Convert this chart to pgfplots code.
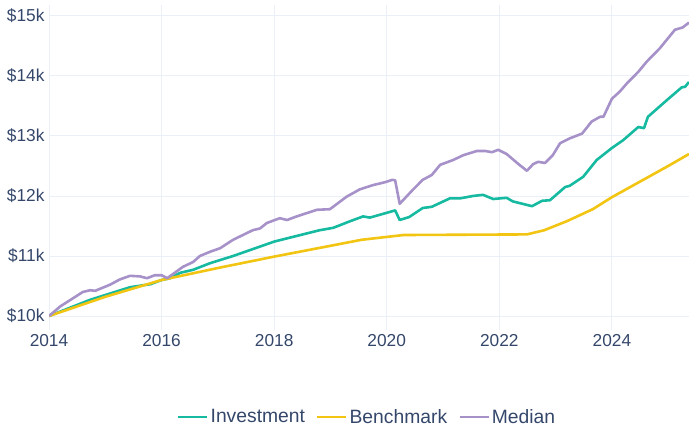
\documentclass[border=0pt]{standalone}
\usepackage{fontspec}
\setmainfont{Liberation Sans}
\usepackage{pgfplots}
\pgfplotsset{compat=1.18}
\definecolor{inv}{RGB}{22,186,160}
\definecolor{bench}{RGB}{242,197,18}
\definecolor{med}{RGB}{166,146,201}
\definecolor{gridc}{HTML}{EBF0F8}
\definecolor{txt}{HTML}{34476A}
\begin{document}
\begin{tikzpicture}
\useasboundingbox (-49bp,-99bp) rectangle (640bp,330bp);
\begin{axis}[
  scale only axis, width=640bp, height=325bp,
  xmin=2014, xmax=2025.37, ymin=9.767, ymax=15.183,
  xtick={2014,2016,2018,2020,2022,2024},
  xticklabels={2014,2016,2018,2020,2022,2024},
  ytick={10,11,12,13,14,15},
  yticklabels={\$10k,\$11k,\$12k,\$13k,\$14k,\$15k},
  /pgf/number format/assume math mode=true,
  ticklabel style={font=\fontsize{17.3bp}{19bp}\selectfont, text=txt},
  yticklabel style={xshift=-1bp},
  xticklabel style={yshift=-1bp},
  axis line style={draw=none},
  major tick length=0pt,
  grid=major,
  grid style={gridc, line width=1bp},
  legend columns=3,
  legend style={at={(0.497,-0.268)}, anchor=center, draw=none, fill=none,
    font=\fontsize{19.3bp}{21bp}\selectfont, text=txt,
    /tikz/every even column/.append style={column sep=9bp}},
  legend image code/.code={\draw[#1, line width=2.6bp] (0bp,0bp) -- (29bp,0bp);},
  every axis plot/.append style={line width=2.6bp, line join=round},
]
\addplot[inv, mark=none] coordinates {
(2014.0,10.0) (2014.73,10.27) (2015.44,10.48) (2015.8,10.53) (2016.0,10.6)
(2016.15,10.63) (2016.33,10.72) (2016.56,10.77) (2016.86,10.88) (2017.27,11.0)
(2018.0,11.24) (2018.81,11.43) (2019.05,11.47) (2019.35,11.58) (2019.58,11.66)
(2019.7,11.64) (2020.15,11.76) (2020.23,11.6) (2020.4,11.65) (2020.64,11.8)
(2020.8,11.82) (2021.12,11.96) (2021.3,11.96) (2021.53,12.0) (2021.71,12.02)
(2021.89,11.95) (2022.13,11.97) (2022.24,11.91) (2022.58,11.83) (2022.76,11.92)
(2022.9,11.93) (2023.17,12.15) (2023.25,12.17) (2023.49,12.32) (2023.73,12.6)
(2024.0,12.8) (2024.2,12.93) (2024.47,13.15) (2024.57,13.13) (2024.64,13.32)
(2024.98,13.6) (2025.24,13.81) (2025.3,13.82) (2025.37,13.9)
};
\addlegendentry{Investment}
\addplot[bench, mark=none] coordinates {
(2014,10.0) (2015,10.32) (2016,10.6) (2017,10.8) (2018,10.99) (2019,11.17)
(2019.55,11.27) (2020.3,11.35) (2022.49,11.36) (2022.8,11.43) (2023.2,11.58)
(2023.66,11.78) (2024.0,11.98) (2024.5,12.24) (2025.0,12.5) (2025.37,12.7)
};
\addlegendentry{Benchmark}
\addplot[med, mark=none] coordinates {
(2014.0,10.0) (2014.2,10.16) (2014.6,10.4) (2014.73,10.43) (2014.82,10.42)
(2015.08,10.52) (2015.26,10.61) (2015.44,10.67) (2015.62,10.66) (2015.74,10.63)
(2015.88,10.68) (2016.0,10.68) (2016.1,10.63) (2016.38,10.82) (2016.56,10.9)
(2016.68,11.0) (2016.86,11.07) (2017.04,11.13) (2017.27,11.27) (2017.62,11.43)
(2017.75,11.46) (2017.87,11.55) (2018.1,11.63) (2018.23,11.6) (2018.4,11.66)
(2018.76,11.77) (2018.99,11.78) (2019.29,11.99) (2019.52,12.11) (2019.75,12.18)
(2019.97,12.23) (2020.1,12.27) (2020.15,12.26) (2020.23,11.87) (2020.46,12.1)
(2020.64,12.27) (2020.8,12.35) (2020.95,12.52) (2021.18,12.6) (2021.36,12.68)
(2021.6,12.75) (2021.75,12.75) (2021.87,12.73) (2021.98,12.77) (2022.13,12.7)
(2022.33,12.54) (2022.49,12.42) (2022.6,12.53) (2022.69,12.57) (2022.81,12.55)
(2022.95,12.68) (2023.08,12.88) (2023.25,12.96) (2023.47,13.04) (2023.64,13.24)
(2023.79,13.32) (2023.85,13.32) (2024.0,13.62) (2024.14,13.74) (2024.27,13.88)
(2024.47,14.07) (2024.62,14.24) (2024.85,14.46) (2025.12,14.77) (2025.26,14.81)
(2025.37,14.89)
};
\addlegendentry{Median}
\end{axis}
\end{tikzpicture}
\end{document}
